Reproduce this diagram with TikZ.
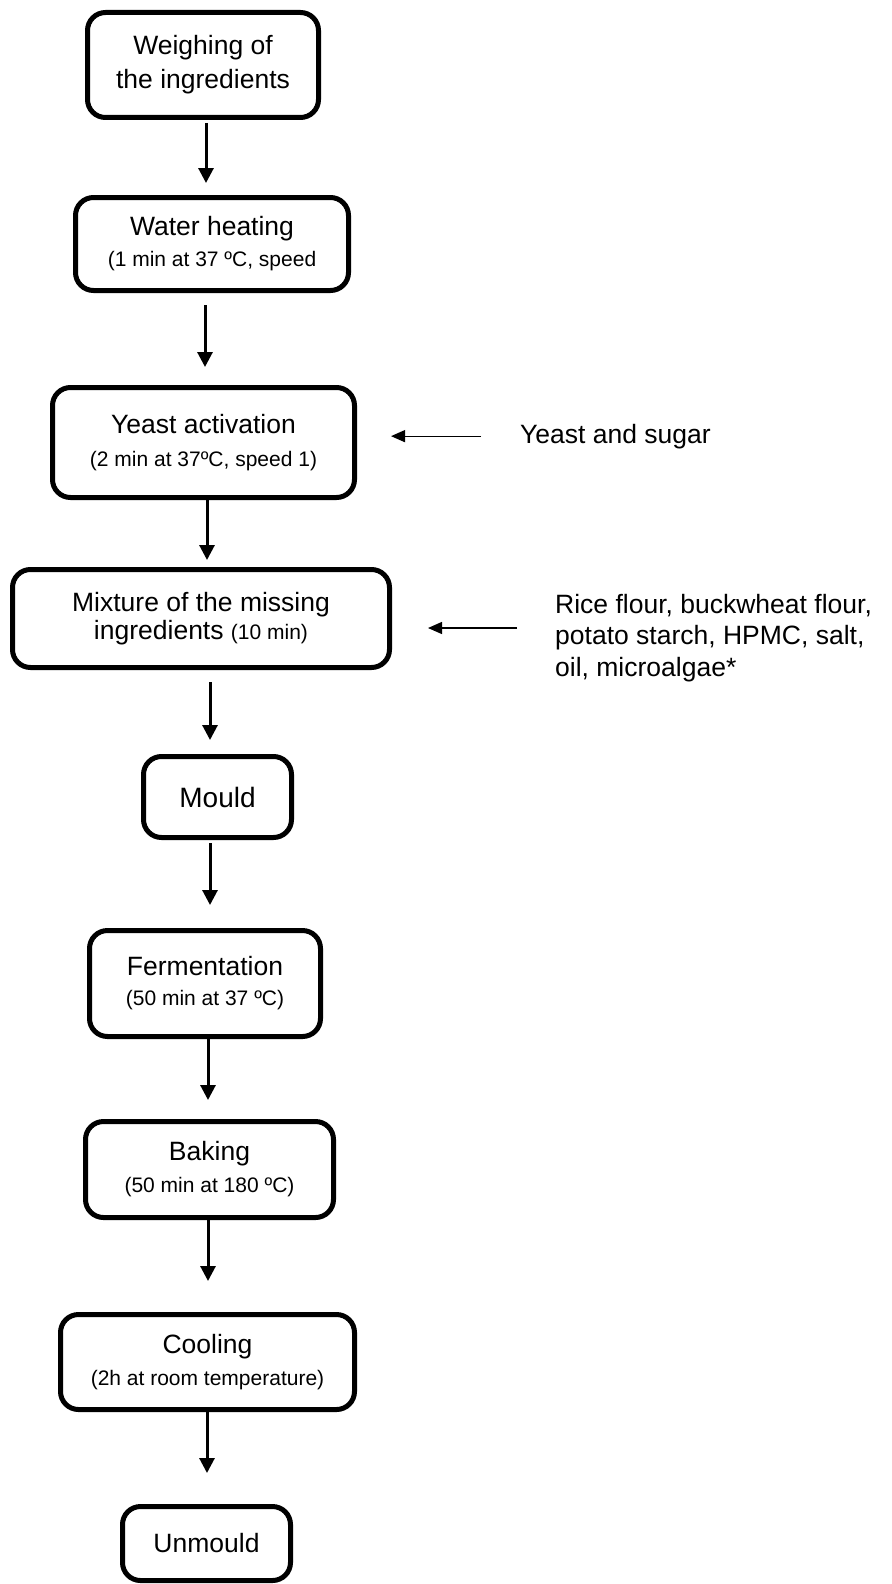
\documentclass[tikz,border=0pt]{standalone}
\usepackage{fontspec}
\setmainfont{Liberation Sans}
\usetikzlibrary{arrows.meta}
\newcommand{\sm}{\fontsize{21}{25}\selectfont}
\begin{document}
\begin{tikzpicture}[x=1pt,y=-1pt,
  stepbox/.style={draw, line width=5pt, rounded corners=18pt, align=center, inner sep=0pt, font=\fontsize{26.5}{32}\selectfont},
  arr/.style={line width=3pt, -{Triangle[length=15pt,width=15pt]}},
  sarr/.style={line width=1.3pt, -{Triangle[length=14pt,width=12pt]}},
  lbl/.style={inner sep=0pt, align=left, font=\fontsize{26.5}{31.5}\selectfont}]
\useasboundingbox (0,0) rectangle (891,1584);

\node[stepbox, minimum width=231pt, minimum height=105pt, font=\fontsize{26.5}{34}\selectfont] (b1) at (203,65) {Weighing of\\the ingredients};
\node[stepbox, minimum width=273pt, minimum height=93pt, font=\fontsize{26.5}{31}\selectfont] (b2) at (212,244) {Water heating\\{\sm(1 min at 37 ºC, speed}};
\node[stepbox, minimum width=302pt, minimum height=110pt, font=\fontsize{26.5}{33}\selectfont] (b3) at (203.5,442.5) {Yeast activation\\{\sm(2 min at 37ºC, speed 1)}};
\node[stepbox, minimum width=377pt, minimum height=98pt, font=\fontsize{26.5}{28}\selectfont] (b4) at (201,618.5) {Mixture of the missing\\ingredients {\sm(10 min)}};
\node[stepbox, minimum width=148pt, minimum height=81pt, font=\fontsize{28}{32}\selectfont] (b5) at (217.5,797) {Mould};
\node[stepbox, minimum width=231pt, minimum height=106pt, font=\fontsize{26.5}{30}\selectfont] (b6) at (205,983.5) {Fermentation\\{\sm(50 min at 37 ºC)}};
\node[stepbox, minimum width=248pt, minimum height=96pt] (b7) at (209.5,1169.5) {Baking\\{\sm(50 min at 180 ºC)}};
\node[stepbox, minimum width=294pt, minimum height=95pt] (b8) at (207.5,1362) {Cooling\\{\sm(2h at room temperature)}};
\node[stepbox, minimum width=168pt, minimum height=74pt] (b9) at (206.5,1543.5) {Unmould};

\node[lbl, anchor=base west] (ys) at (520,443) {Yeast and sugar};
\node[lbl, anchor=west] (rt) at (555,638) {Rice flour, buckwheat flour,\\potato starch, HPMC, salt,\\oil, microalgae*};

\coordinate (a1) at ([xshift=3pt]b1.south);
\coordinate (a2) at ([xshift=-7pt]b2.south);
\coordinate (a3) at ([xshift=3.5pt]b3.south);
\coordinate (a4) at ([xshift=9pt]b4.south);
\coordinate (a5) at ([xshift=-7.5pt]b5.south);
\coordinate (a6) at ([xshift=3pt]b6.south);
\coordinate (a7) at ([xshift=-1.5pt]b7.south);
\coordinate (a8) at ([xshift=-0.5pt]b8.south);

\draw[arr, shorten <=3pt, shorten >=12pt] (a1) -- (a1 |- b2.north);
\draw[arr, shorten <=12pt, shorten >=18pt] (a2) -- (a2 |- b3.north);
\draw[arr, shorten >=7pt] (a3) -- (a3 |- b4.north);
\draw[arr, shorten <=12pt, shorten >=14pt] (a4) -- (a4 |- b5.north);
\draw[arr, shorten <=3pt, shorten >=23pt] (a5) -- (a5 |- b6.north);
\draw[arr, shorten >=19pt] (a6) -- (a6 |- b7.north);
\draw[arr, shorten >=31pt] (a7) -- (a7 |- b8.north);
\draw[arr, shorten >=31pt] (a8) -- (a8 |- b9.north);

\coordinate (rtin) at ([yshift=10pt]rt.west);
\draw[sarr, shorten <=39pt, shorten >=34pt] (ys.west) -- (b3.east |- ys.west);
\draw[sarr, shorten <=38pt, shorten >=36pt] (rtin) -- (b4.east |- rtin);
\end{tikzpicture}
\end{document}
